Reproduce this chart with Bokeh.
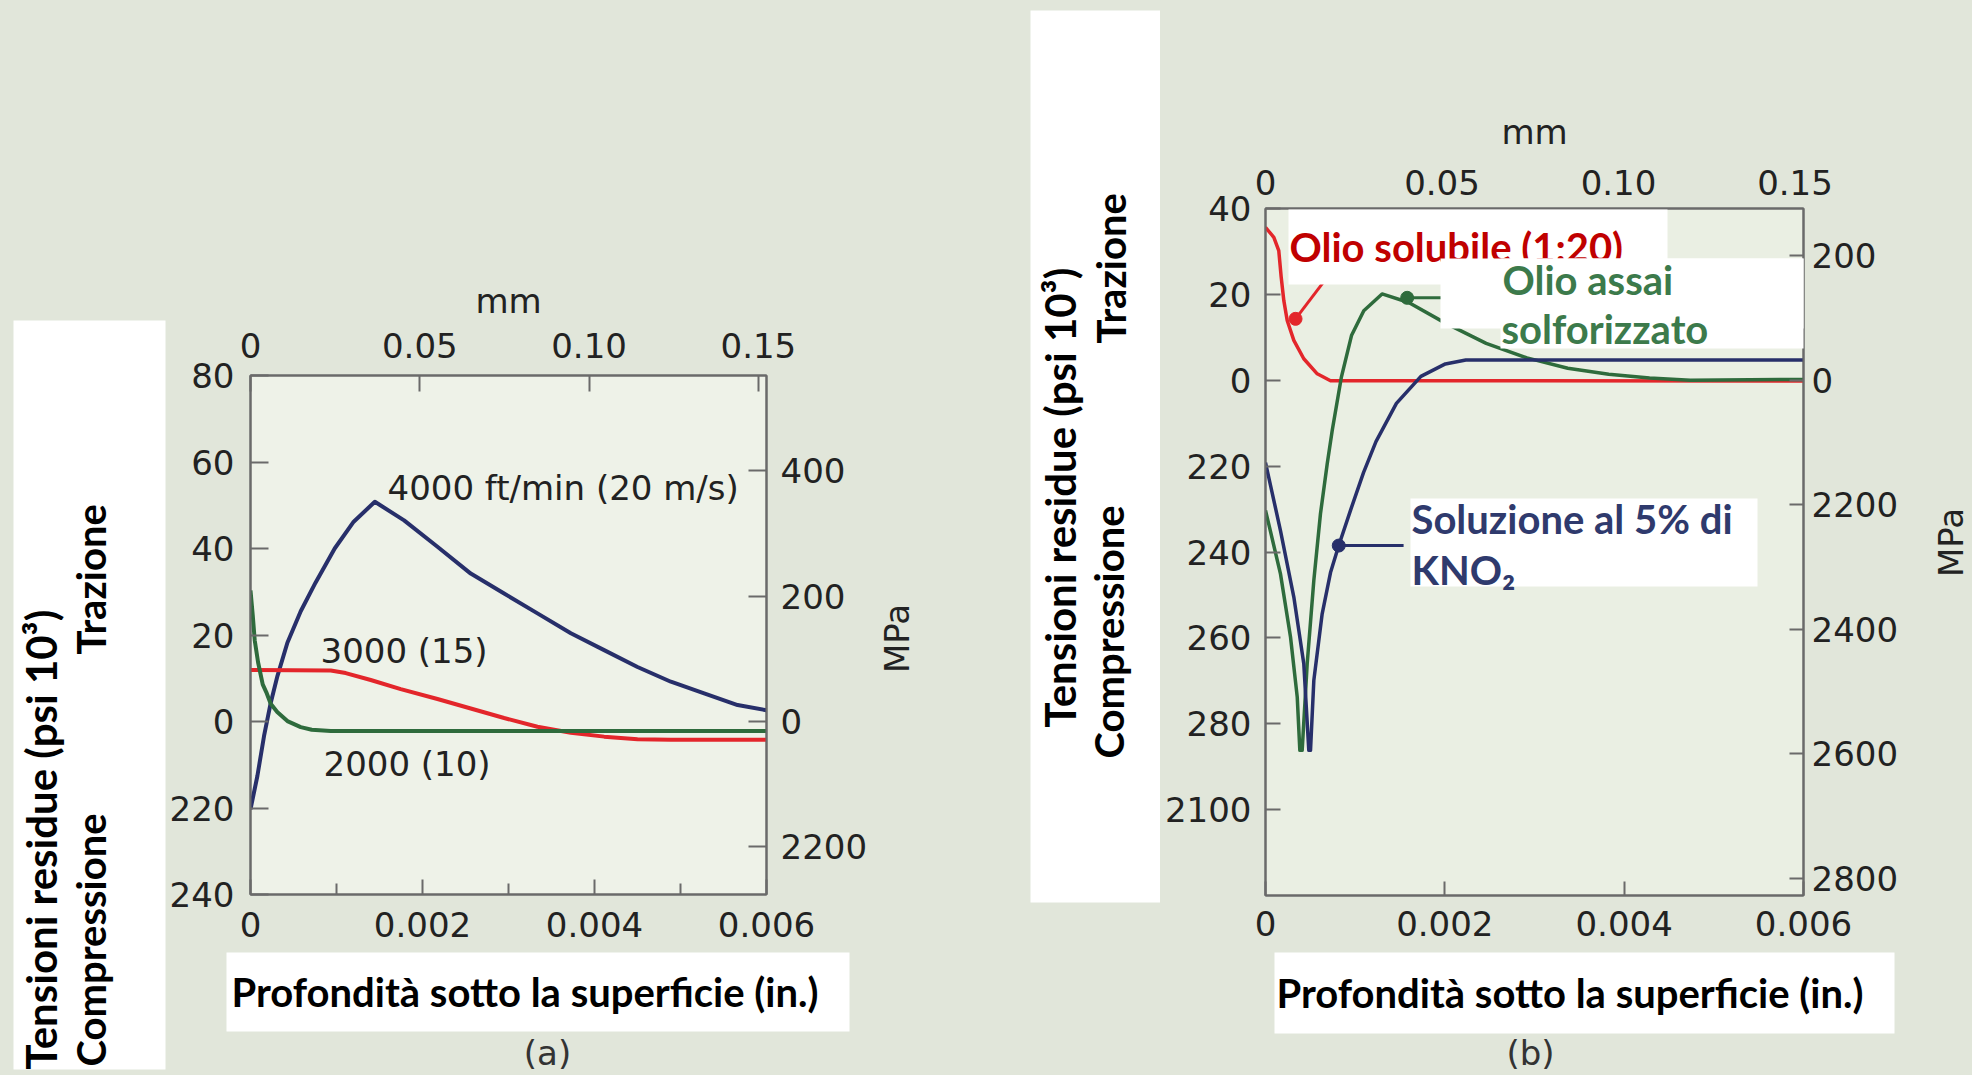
import math
from bokeh.plotting import figure
from bokeh.models import Range1d, LinearAxis, FixedTicker, Label, BoxAnnotation, Row, Column
from bokeh.embed import file_html
from bokeh.resources import INLINE

# ------------------------------------------------------------------
# DATA  (depth in inches, residual stress in psi x 10^3)
# ------------------------------------------------------------------
# chart (a): cutting speed
a_depth_4000 = [0, 0.00008, 0.000157, 0.000235, 0.000313, 0.000429, 0.000584, 0.000756,
                0.000979, 0.0012, 0.001446, 0.001786, 0.002174, 0.002561, 0.002949,
                0.003337, 0.003725, 0.004112, 0.0045, 0.004888, 0.005275, 0.005664, 0.006]
a_stress_4000 = [-20.3, -12.6, -3.4, 4.3, 10.5, 18.2, 25.5, 32.1, 40.0, 46.2, 50.8, 46.5,
                 40.4, 34.2, 29.6, 25.0, 20.4, 16.5, 12.6, 9.2, 6.5, 3.8, 2.6]
a_depth_3000 = [0, 0.000933, 0.001107, 0.001398, 0.001747, 0.002174, 0.002561, 0.002949,
                0.003337, 0.003725, 0.004112, 0.0045, 0.004888, 0.006]
a_stress_3000 = [11.9, 11.8, 11.2, 9.6, 7.5, 5.2, 3.0, 0.8, -1.2, -2.6, -3.5, -4.1, -4.2, -4.2]
a_depth_2000 = [0, 0.000026, 0.000049, 0.000088, 0.000142, 0.000183, 0.000235, 0.000311,
                0.000429, 0.000584, 0.000712, 0.000933, 0.006]
a_stress_2000 = [30.3, 24.6, 18.8, 13.7, 8.6, 6.8, 4.1, 2.2, 0.1, -1.3, -1.9, -2.2, -2.2]

a_x_ticks = [0, 0.002, 0.004, 0.006]
a_x_tick_labels = ["0", "0.002", "0.004", "0.006"]
a_x_minor_ticks = [0.001, 0.003, 0.005]
a_mm_ticks = [0, 0.05, 0.10, 0.15]
a_mm_tick_labels = ["0", "0.05", "0.10", "0.15"]
a_y_ticks = [-40, -20, 0, 20, 40, 60, 80]
a_y_tick_labels = ["240", "220", "0", "20", "40", "60", "80"]
a_mpa_ticks = [-200, 0, 200, 400]
a_mpa_tick_labels = ["2200", "0", "200", "400"]

# chart (b): cutting fluid
b_depth_olio = [0, 0.000093, 0.000148, 0.000175, 0.000204, 0.000242, 0.000316, 0.000427,
                0.000577, 0.000725, 0.006]
b_stress_olio = [35.6, 33.3, 30.2, 24.0, 18.6, 13.9, 9.3, 5.0, 1.5, -0.1, -0.2]
b_depth_solf = [0, 0.000167, 0.000279, 0.000354, 0.000383, 0.000409, 0.000465, 0.000539,
                0.000613, 0.000688, 0.000744, 0.000845, 0.000959, 0.001096, 0.0013,
                0.001597, 0.002006, 0.002461, 0.002916, 0.003371, 0.003828, 0.004283,
                0.004738, 0.006]
b_stress_solf = [-30.3, -45.1, -59.8, -73.8, -86.2, -86.2, -66.0, -46.6, -31.1, -19.5, -11.7,
                 0.6, 10.4, 16.2, 20.1, 18.1, 13.3, 8.6, 5.2, 2.8, 1.4, 0.5, 0.0, 0.2]
b_depth_kno2 = [0, 0.000167, 0.000316, 0.000427, 0.000483, 0.000502, 0.000539, 0.000632,
                0.000725, 0.000817, 0.000948, 0.001093, 0.001232, 0.00146, 0.001733,
                0.002006, 0.002234, 0.006]
b_stress_kno2 = [-19.2, -35.0, -50.5, -66.0, -86.2, -86.2, -69.9, -54.4, -44.8, -38.5, -30.3,
                 -21.5, -14.3, -5.4, 0.9, 3.8, 4.7, 4.7]

b_x_ticks = [0, 0.002, 0.004, 0.006]
b_x_tick_labels = ["0", "0.002", "0.004", "0.006"]
b_mm_ticks = [0, 0.05, 0.10, 0.15]
b_mm_tick_labels = ["0", "0.05", "0.10", "0.15"]
b_y_ticks = [-100, -80, -60, -40, -20, 0, 20, 40]
b_y_tick_labels = ["2100", "280", "260", "240", "220", "0", "20", "40"]
b_mpa_ticks = [-800, -600, -400, -200, 0, 200]
b_mpa_tick_labels = ["2800", "2600", "2400", "2200", "0", "200"]

# callout pointers of chart (b): [dot, end of leader]
b_ptr_olio_x = [0.000335, 0.000725]
b_ptr_olio_y = [14.3, 25.0]
b_ptr_solf_x = [0.00158, 0.0021]
b_ptr_solf_y = [19.2, 19.2]
b_ptr_kno2_x = [0.000817, 0.00154]
b_ptr_kno2_y = [-38.5, -38.5]

KSI_TO_MPA = 6.895
IN_TO_MM = 25.4

# ------------------------------------------------------------------
# STYLE / GEOMETRY
# ------------------------------------------------------------------
BG = "#e1e6da"
BG_FRAME_A = "#eef2e8"
BG_FRAME_B = "#eaefe3"
FRAME = "#6a6a6a"
TICK_TXT = "#222222"
NAVY = "#272f6a"
GREEN = "#2e6b3c"
RED = "#e3262b"
SLIDE_FONT = "Lato"
SLIDE_SIZE = "40px"
FIG_FONT = "DejaVu Sans"
FIG_SIZE = "34px"
BASE_SHIFT = 13          # alphabetic-baseline correction (px)

TOTAL_H = 1075
SPLIT_Y = 952
CSS = {"background-color": BG}


def no_align(p):
    try:
        p.frame_align = False
    except Exception:
        pass


def decor(W, Hh, ox, oy):
    """plain panel whose data coordinates are page pixels"""
    p = figure(width=W, height=Hh, x_range=Range1d(ox, ox + W), y_range=Range1d(oy + Hh, oy),
               x_axis_location=None, y_axis_location=None,
               output_backend="svg", toolbar_location=None)
    p.min_border_left = p.min_border_right = p.min_border_top = p.min_border_bottom = 0
    p.grid.visible = False
    p.outline_line_color = None
    p.background_fill_color = BG
    p.border_fill_color = BG
    no_align(p)
    return p


def chart(W, Hh, F, xr, yr, frame_bg):
    p = figure(width=W, height=Hh, frame_width=F["w"], frame_height=F["h"],
               x_range=xr, y_range=yr,
               min_border_left=F["l"], min_border_top=F["t"],
               min_border_right=W - F["l"] - F["w"], min_border_bottom=Hh - F["t"] - F["h"],
               output_backend="svg", toolbar_location=None)
    p.grid.visible = False
    p.background_fill_color = frame_bg
    p.border_fill_color = BG
    p.outline_line_color = FRAME
    p.outline_line_width = 2
    no_align(p)
    return p


def style_axis(ax, ticks, labels, tick_in, standoff, minor=None, minor_in=0):
    ax.ticker = FixedTicker(ticks=ticks, minor_ticks=minor or [])
    ax.major_label_overrides = {t: s for t, s in zip(ticks, labels)}
    ax.axis_line_color = FRAME
    ax.axis_line_width = 2
    ax.major_tick_in = tick_in
    ax.major_tick_out = 0
    ax.minor_tick_in = minor_in
    ax.minor_tick_out = 0
    ax.major_tick_line_color = FRAME if tick_in > 0 else None
    ax.major_tick_line_width = 2
    ax.minor_tick_line_color = FRAME
    ax.minor_tick_line_width = 2
    ax.major_label_text_font = FIG_FONT
    ax.major_label_text_font_size = FIG_SIZE
    ax.major_label_text_color = TICK_TXT
    ax.major_label_standoff = standoff


def axis_title(ax, s, standoff):
    ax.axis_label = s
    ax.axis_label_text_font = FIG_FONT
    ax.axis_label_text_font_size = FIG_SIZE
    ax.axis_label_text_font_style = "normal"
    ax.axis_label_text_color = TICK_TXT
    ax.axis_label_standoff = standoff


def mapper(F, ox, oy, x0, x1, y0, y1):
    def f(px, py):
        fx = px - ox
        fy = py - oy
        return (x0 + (fx - F["l"]) / F["w"] * (x1 - x0),
                y1 - (fy - F["t"]) / F["h"] * (y1 - y0))
    return f


def ident(px, py):
    return px, py


def box(p, m, l, t, r, b):
    x0, y0 = m(l, t)
    x1, y1 = m(r, b)
    p.add_layout(BoxAnnotation(left=x0, right=x1, top=y0, bottom=y1,
                               fill_color="white", fill_alpha=1.0, line_color=None))


def text(p, m, px, py, s, color="black", font=SLIDE_FONT, size=SLIDE_SIZE, bold=True,
         align="left", baseline="alphabetic", angle=0.0):
    if baseline == "alphabetic":
        if angle == 0.0:
            py -= BASE_SHIFT
        else:
            px -= BASE_SHIFT
    x, y = m(px, py)
    p.add_layout(Label(x=x, y=y, text=s, text_color=color, text_font=font,
                       text_font_size=size, text_font_style="bold" if bold else "normal",
                       text_align=align, text_baseline=baseline, angle=angle))


# ------------------------------------------------------------------
# CHART (a)
# ------------------------------------------------------------------
FA = dict(l=84, t=375, w=516, h=519)
A_OX = 166
pa = chart(705, SPLIT_Y, FA, Range1d(0, 0.006), Range1d(-40, 80), BG_FRAME_A)
pa.extra_x_ranges = {"mm": Range1d(0, 0.006 * IN_TO_MM)}
pa.extra_y_ranges = {"mpa": Range1d(-40 * KSI_TO_MPA, 80 * KSI_TO_MPA)}
pa.add_layout(LinearAxis(x_range_name="mm"), "above")
pa.add_layout(LinearAxis(y_range_name="mpa"), "right")
style_axis(pa.below[0], a_x_ticks, a_x_tick_labels, 15, 17, a_x_minor_ticks, 11)
style_axis(pa.left[0], a_y_ticks, a_y_tick_labels, 18, 16)
style_axis(pa.above[0], a_mm_ticks, a_mm_tick_labels, 16, 18)
style_axis(pa.right[0], a_mpa_ticks, a_mpa_tick_labels, 18, 14)
axis_title(pa.above[0], "mm", 9)

pa.line(a_depth_4000, a_stress_4000, line_color=NAVY, line_width=4, line_join="round")
pa.line(a_depth_3000, a_stress_3000, line_color=RED, line_width=4, line_join="round")
pa.line(a_depth_2000, a_stress_2000, line_color=GREEN, line_width=4, line_join="round")

ma = mapper(FA, A_OX, 0, 0, 0.006, -40, 80)
text(pa, ma, 387, 500, "4000 ft/min (20 m/s)", TICK_TXT, FIG_FONT, FIG_SIZE, False)
text(pa, ma, 320, 663, "3000 (15)", TICK_TXT, FIG_FONT, FIG_SIZE, False)
text(pa, ma, 323, 776, "2000 (10)", TICK_TXT, FIG_FONT, FIG_SIZE, False)

a_side = decor(166, TOTAL_H, 0, 0)
box(a_side, ident, 13, 320, 165, 1069)
text(a_side, ident, 53, 1069, "Tensioni residue (psi 10³)", size="42px", angle=math.pi / 2)
text(a_side, ident, 103, 1066, "Compressione", angle=math.pi / 2)
text(a_side, ident, 103, 654, "Trazione", angle=math.pi / 2)

a_right = decor(129, SPLIT_Y, 871, 0)
text(a_right, ident, 896, 638, "MPa", TICK_TXT, FIG_FONT, FIG_SIZE, False, align="center",
     baseline="middle", angle=math.pi / 2)

a_bottom = decor(834, TOTAL_H - SPLIT_Y, 166, SPLIT_Y)
box(a_bottom, ident, 226, 948, 849, 1031)
text(a_bottom, ident, 231, 1004, "Profondità sotto la superficie (in.)")
text(a_bottom, ident, 547, 1052, "(a)", "#333333", FIG_FONT, FIG_SIZE, False, align="center",
     baseline="middle")

# ------------------------------------------------------------------
# CHART (b)
# ------------------------------------------------------------------
FB = dict(l=105, t=208, w=538, h=687)
B_OX = 1160
pb = chart(747, SPLIT_Y, FB, Range1d(0, 0.006), Range1d(-120, 40), BG_FRAME_B)
pb.extra_x_ranges = {"mm": Range1d(0, 0.006 * IN_TO_MM)}
pb.extra_y_ranges = {"mpa": Range1d(-120 * KSI_TO_MPA, 40 * KSI_TO_MPA)}
pb.add_layout(LinearAxis(x_range_name="mm"), "above")
pb.add_layout(LinearAxis(y_range_name="mpa"), "right")
style_axis(pb.below[0], b_x_ticks, b_x_tick_labels, 14, 15)
style_axis(pb.left[0], b_y_ticks, b_y_tick_labels, 15, 14)
style_axis(pb.above[0], b_mm_ticks, b_mm_tick_labels, 0, 14)
style_axis(pb.right[0], b_mpa_ticks, b_mpa_tick_labels, 14, 8)
axis_title(pb.above[0], "mm", 15)

pb.line(b_depth_olio, b_stress_olio, line_color=RED, line_width=3.5, line_join="round")
pb.line(b_depth_solf, b_stress_solf, line_color=GREEN, line_width=3.5, line_join="round")
pb.line(b_depth_kno2, b_stress_kno2, line_color=NAVY, line_width=3.5, line_join="round")

pb.line(b_ptr_olio_x, b_ptr_olio_y, line_color=RED, line_width=3)
pb.line(b_ptr_solf_x, b_ptr_solf_y, line_color=GREEN, line_width=3)
pb.line(b_ptr_kno2_x, b_ptr_kno2_y, line_color=NAVY, line_width=3)
pb.scatter(b_ptr_olio_x[:1], b_ptr_olio_y[:1], size=13, color=RED)
pb.scatter(b_ptr_solf_x[:1], b_ptr_solf_y[:1], size=13, color=GREEN)
pb.scatter(b_ptr_kno2_x[:1], b_ptr_kno2_y[:1], size=13, color=NAVY)

mb = mapper(FB, B_OX, 0, 0, 0.006, -120, 40)
box(pb, mb, 1288, 209, 1667, 284)
text(pb, mb, 1289, 259.5, "Olio solubile (1:20)", "#c00000")
box(pb, mb, 1440, 258, 1805, 328)
box(pb, mb, 1500, 258, 1805, 348)
text(pb, mb, 1502, 292, "Olio assai", "#3c7a4b")
text(pb, mb, 1501, 341, "solforizzato", "#3c7a4b")
box(pb, mb, 1410, 498, 1757, 586)
text(pb, mb, 1411, 531, "Soluzione  al 5% di", "#2f3a6d")
text(pb, mb, 1411, 582, "KNO₂", "#2f3a6d")

b_side = decor(160, TOTAL_H, 1000, 0)
box(b_side, ident, 1030, 10, 1160, 902)
text(b_side, ident, 1072, 727, "Tensioni residue (psi 10³)", size="42px", angle=math.pi / 2)
text(b_side, ident, 1121, 758, "Compressione", angle=math.pi / 2)
text(b_side, ident, 1123, 343, "Trazione", angle=math.pi / 2)

b_right = decor(65, SPLIT_Y, 1907, 0)
text(b_right, ident, 1950, 542, "MPa", TICK_TXT, FIG_FONT, FIG_SIZE, False, align="center",
     baseline="middle", angle=math.pi / 2)

b_bottom = decor(812, TOTAL_H - SPLIT_Y, 1160, SPLIT_Y)
box(b_bottom, ident, 1274, 951, 1894, 1033)
text(b_bottom, ident, 1276, 1005, "Profondità sotto la superficie (in.)")
text(b_bottom, ident, 1530, 1052, "(b)", "#333333", FIG_FONT, FIG_SIZE, False, align="center",
     baseline="middle")

layout = Row(children=[
    a_side,
    Column(children=[Row(children=[pa, a_right], styles=CSS), a_bottom], styles=CSS),
    b_side,
    Column(children=[Row(children=[pb, b_right], styles=CSS), b_bottom], styles=CSS),
], styles=CSS)
open("out.html", "w").write(file_html(layout, INLINE))
